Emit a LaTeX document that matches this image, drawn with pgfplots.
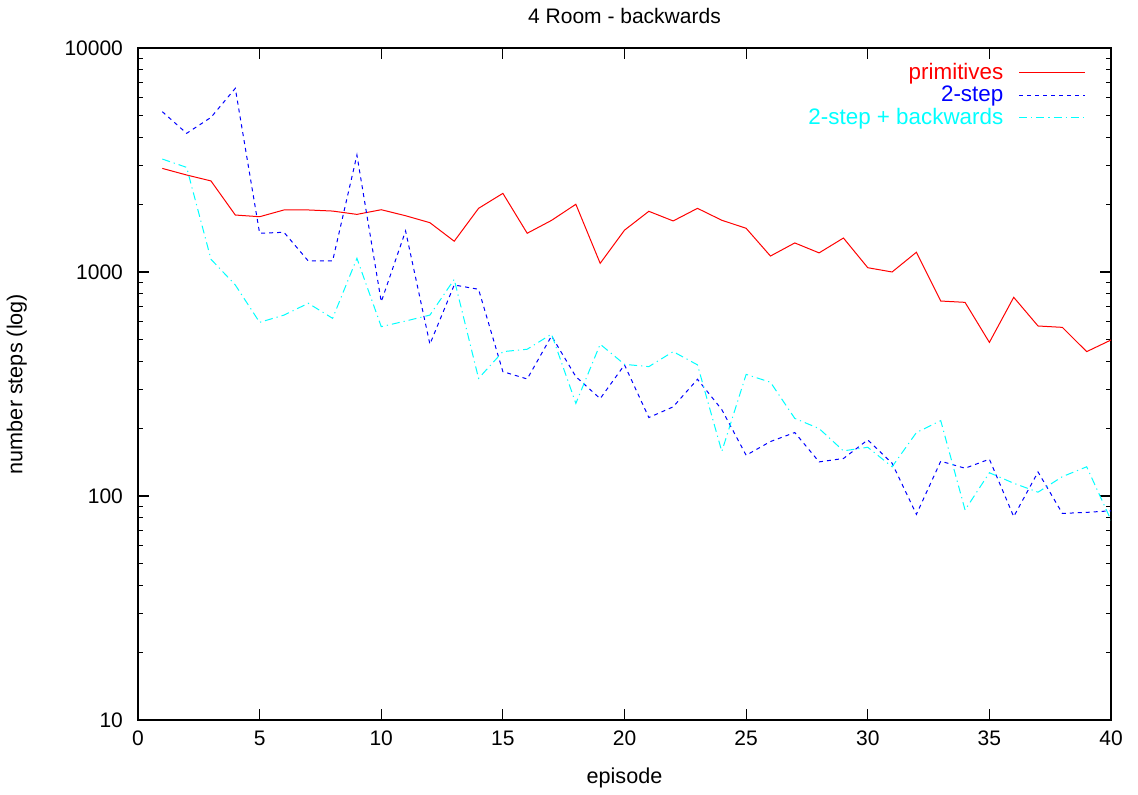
\documentclass[border=0pt]{standalone}
\usepackage{fontspec}
\setmainfont{Liberation Sans}
\usepackage{pgfplots}
\pgfplotsset{compat=1.18}
\usetikzlibrary{calc}
\definecolor{gpred}{RGB}{255,0,0}
\definecolor{gpblue}{RGB}{0,0,255}
\definecolor{gpcyan}{RGB}{0,255,255}

\begin{document}
\begin{tikzpicture}
\begin{axis}[
  scale only axis,
  width=486.5pt, height=336pt,
  xmin=0, xmax=40, ymin=10, ymax=10000,
  ymode=log,
  xtick={0,5,...,40},
  ytick={10,100,1000,10000},
  yticklabels={10,100,1000,10000},
  minor xtick={},
  tick align=inside,
  major tick length=5.5pt,
  minor tick length=2.75pt,
  tick style={black, line width=0.6pt},
  axis line style={line width=0.6pt},
  /pgf/number format/assume math mode=true,
  font=\fontsize{10.5}{12}\selectfont,
  tick label style={font=\fontsize{10.5}{12}\selectfont},
  label style={font=\fontsize{10.8}{12}\selectfont},
  xticklabel style={yshift=-2pt},
  yticklabel style={xshift=-4pt},
  title={4 Room - backwards},
  title style={yshift=2.5pt},
  xlabel={episode},
  ylabel={number steps (log)},
  xlabel style={yshift=-4pt},
  ylabel style={yshift=12pt},
  legend style={draw=none, fill=none, at={(0.98,0.99)}, anchor=north east,
    font=\fontsize{11.2}{13}\selectfont, row sep=-2.3pt},
  legend cell align=right,
  legend plot pos=right,
  legend image code/.code={\path (0cm,0cm); \draw[#1] (0.2cm,0cm) -- (1.35cm,0cm);},
]
% primitives
\addplot[gpred, line width=0.5pt] coordinates {
(1,2900) (2,2710) (3,2550) (4,1796) (5,1765) (6,1892) (7,1892) (8,1871) (9,1808) (10,1897)
(11,1783) (12,1660) (13,1372) (14,1924) (15,2244) (16,1489) (17,1700) (18,2006) (19,1093) (20,1537)
(21,1866) (22,1690) (23,1924) (24,1702) (25,1567) (26,1178) (27,1348) (28,1217) (29,1418) (30,1045)
(31,1000) (32,1225) (33,742) (34,732) (35,485) (36,771) (37,574) (38,566) (39,441) (40,497)
};
\addlegendentry{\textcolor{gpred}{primitives}}
% 2-step
\addplot[gpblue, line width=0.5pt, dash pattern=on 2pt off 2pt] coordinates {
(1,5196) (2,4160) (3,4899) (4,6605) (5,1489) (6,1504) (7,1120) (8,1120) (9,3327) (10,736)
(11,1525) (12,476) (13,875) (14,837) (15,359) (16,333) (17,518) (18,341) (19,272) (20,385)
(21,224) (22,250) (23,332) (24,243) (25,152) (26,175) (27,192) (28,142) (29,147) (30,178)
(31,140) (32,82.8) (33,143) (34,133) (35,146) (36,80.9) (37,128) (38,83.6) (39,84.5) (40,85.9)
};
\addlegendentry{\textcolor{gpblue}{2-step}}
% 2-step + backwards
\addplot[gpcyan, line width=0.5pt, dash pattern=on 4pt off 2pt on 0.6pt off 2pt] coordinates {
(1,3193) (2,2931) (3,1140) (4,875) (5,596) (6,642) (7,725) (8,621) (9,1151) (10,570)
(11,604) (12,642) (13,927) (14,335) (15,441) (16,452) (17,528) (18,259) (19,476) (20,387)
(21,378) (22,441) (23,385) (24,158) (25,349) (26,322) (27,222) (28,200) (29,159) (30,165)
(31,135) (32,192) (33,217) (34,86.6) (35,127) (36,114) (37,104) (38,122) (39,135) (40,78)
};
\addlegendentry{\textcolor{gpcyan}{2-step + backwards}}
\end{axis}
\path ($(current axis.south west)+(-69pt,-35pt)$) rectangle ($(current axis.north east)+(13.5pt,24pt)$);
\end{tikzpicture}
\end{document}
